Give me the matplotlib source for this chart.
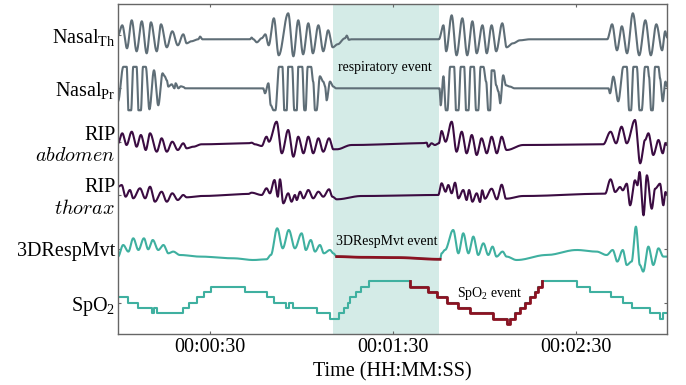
import numpy as np
import matplotlib
matplotlib.use("Agg")
import matplotlib.pyplot as plt

# time axis (seconds) and ticks
x_ticks = [30, 90, 150]
x_tick_labels = ["00:00:30", "00:01:30", "00:02:30"]
event_span = (70.5, 105.2)

# channel labels and their positions
channel_labels = ["Nasal$_{\\mathrm{Th}}$", "Nasal$_{\\mathrm{Pr}}$", "RIP\n$abdomen$",
                  "RIP\n$thorax$", "3DRespMvt", "SpO$_2$"]
label_pos = [299, 246, 192, 139, 85, 31]

# signal extremes: (time s, amplitude)
nasal_th = [(0, 4), (1.4, 14), (2.95, -9), (4.5, 19), (6.1, -12), (7.8, 18), (9.4, -14),
            (10.8, 17), (12.7, -12), (14.1, 15), (16.0, -8), (17.8, 8), (19.6, -6),
            (21.4, 5), (22.5, -4), (24, -2), (26.3, 0), (26.9, 2.7), (27.7, 0), (43.3, 0),
            (43.8, 1.7), (44.4, 0), (45.5, -3), (47.1, 1), (48.3, 5), (49.4, -6),
            (51.1, 21), (52.7, -16), (55.8, 26), (57.5, -17), (59.1, 19), (60.7, -15),
            (62.4, 16), (63.9, -14), (65.7, 14), (67.3, -12), (68.9, 9), (70.4, -8),
            (72, -5), (74.4, 1), (75, 3.7), (75.7, -0.5), (76.5, 0), (105.2, 0),
            (106.7, 14), (107.6, -12), (109.4, 24), (111.0, -16), (112.9, 21), (114.5, -16),
            (116.2, 18), (117.6, -14), (119.5, 14), (120.9, -14), (122.5, 14), (124.0, -12),
            (126.0, 16), (127.4, -8), (129.5, -4), (131.8, -1), (135, 0), (160.4, 0),
            (162.0, 15), (163.6, -11), (165.2, 13), (166.9, -14), (168.8, 26), (170.9, -16),
            (172.9, 19), (174.7, -16), (176.5, 15), (178.4, -11), (179.4, 8), (180, 2)]

nasal_pr = [(0, -13), (1.75, 21.5), (2.85, 21.5), (3.4, -22), (4.3, -22), (5.0, 21.5),
            (6.1, 21.5), (6.7, -22), (7.5, -22), (8.2, 21.5), (9.1, 21.5), (10.3, -21),
            (11.8, 18), (13.2, -17), (14.6, 15), (15.3, 12), (16.0, 8), (16.5, 1.7),
            (17.6, 4), (18.5, 0), (18.9, 5), (19.8, 0), (20.6, 2), (21.4, 1.5), (22, 0),
            (47.6, 0), (48.2, -5), (49.3, 5), (50.1, -17), (51.0, -22), (51.6, -22),
            (52.8, 21.5), (53.9, 21.5), (54.5, -22), (55.3, -22), (55.8, 21.5), (57.1, 21.5),
            (57.8, -22), (58.6, -22), (59.1, 21.5), (60.4, 21.5), (61.1, -22), (61.5, -22),
            (62.2, 21.5), (63.3, 21.5), (64.0, 6.7), (64.6, -22), (65.1, -22), (66.2, 12),
            (67.3, 6.7), (67.9, 1.7), (68.4, -12), (69.5, 6.7), (70.6, 1.7), (71.5, 0),
            (105.4, 0), (105.8, -17), (106.7, 12), (107.5, -22), (108.0, -22), (108.9, 21.5),
            (110.2, 21.5), (110.8, -22), (111.6, -22), (112.4, 21.5), (113.5, 21.5),
            (114.1, -22), (114.9, -22), (115.6, 21.5), (116.7, 21.5), (117.4, -22),
            (118.1, -22), (118.9, 21.5), (119.8, 21.5), (120.7, 6.7), (121.4, -22),
            (122.0, -22), (122.5, 18), (123.3, 18), (124.0, 3), (124.7, -3), (125.3, -15),
            (126.3, 13), (127.2, 3), (128.5, 1.7), (130, 0), (160.8, 0), (161.3, -5),
            (162.4, 11.7), (164.0, -13), (165.7, 21.5), (166.8, 21.5), (167.6, -22),
            (168.2, -22), (169.0, 21.5), (170.1, 21.5), (171.0, -22), (171.7, -22),
            (172.8, 21.5), (173.7, 21.5), (174.1, 11.7), (174.8, -22), (175.3, -22),
            (176.1, 21.5), (177.2, 21.5), (177.7, 10), (178.6, -13), (179.5, 6.7), (180, 2)]

rip_abdomen = [(0, 1.7), (1.4, 11.7), (2.8, 0), (4.5, 13.3), (6.1, -1.7), (7.5, 10),
               (9.1, -5), (10.5, 11.7), (12.7, -6.7), (14.3, 6.7), (16.0, -6.7), (17.8, 3.3),
               (19.6, -5), (21.4, 1.7), (22.5, -3.3), (24.7, -1.7), (27.4, 0.7), (42.7, 1.7),
               (43.8, 2.3), (44.9, 0.7), (47.1, -1), (48.7, 8.3), (49.5, 3.3), (52.0, 23.3),
               (53.7, -8.3), (55.8, 15), (57.5, -11.7), (59.1, 8.3), (60.8, -8.3), (62.4, 8.3),
               (64.0, -8.3), (65.7, 6.7), (67.3, -6.7), (69.2, 6.7), (70.6, -4.3),
               (71.7, -4.3), (76.6, 0), (99.6, 1.7), (101.2, 2.3), (101.7, -1.7),
               (102.8, 1.7), (103.9, 0), (105.2, 1.7), (106.1, 14), (107.4, 3.3),
               (109.4, 23.3), (111.0, -6.7), (112.7, 13.3), (114.3, -8.3), (116.0, 10),
               (117.6, -10), (119.2, 6.7), (120.9, -8.3), (122.5, 8.3), (124.2, -8.3),
               (125.8, 8.3), (127.4, -5), (132.9, 0), (159.1, 0.7), (161.5, 13.3),
               (163.3, 1.7), (165.1, 18.3), (166.8, 1.7), (169.5, 25), (171.2, -18.3),
               (172.8, 5), (173.9, 11.7), (175.5, -10), (177.2, 5), (178.6, -8.3),
               (179.5, 1.7), (180, 0)]

rip_thorax = [(0, 9.3), (1.2, 11), (2.5, -0.7), (3.9, 6), (5.0, -2.3), (7.2, 7.7),
              (8.9, -2.3), (10.5, 9.3), (12.1, -5.7), (14.3, 4.3), (16.0, -5.7), (17.8, 2.7),
              (19.6, -4), (21.4, 1), (22.5, -1.3), (27.4, 0), (42.7, 2), (43.8, 3.3),
              (47.1, 1), (48.7, 7.7), (49.8, 2.7), (51.3, 16), (52.4, -0.7), (53.1, 16.7),
              (54.2, -7.3), (55.8, 2.7), (56.9, -5.7), (58.0, 1), (58.6, -4), (59.7, 4.3),
              (60.8, -2.3), (62.4, 6), (64.0, -2.3), (65.7, 4.3), (67.3, -0.7), (69.2, 6.7),
              (70.3, -0.7), (71.7, -3.3), (79.9, 0), (105.0, 1), (106.1, 12.7), (107.4, 4.3),
              (108.3, 11), (109.4, 2.7), (110.5, 13.3), (111.6, -2.3), (113.2, 6),
              (114.3, -4), (115.1, 6), (116.2, -5.7), (117.6, 2.7), (118.7, -6),
              (119.4, 5.7), (120.3, -2.7), (122.5, 7.3), (124.2, -3.3), (125.8, 11.3),
              (127.2, -2.7), (132.9, 0), (159.7, 2.3), (161.5, 16.7), (163.0, 4),
              (164.6, 9), (165.5, 5.7), (166.8, 12.3), (167.9, -9.3), (169.5, 15.7),
              (170.3, 10.7), (171.0, 24), (172.3, -19.3), (173.4, 20.7), (175.0, -12.7),
              (176.1, 7.3), (177.7, 12.3), (178.8, -9.3), (179.5, 4), (180, 2)]

resp_3d = [(0, 1.7), (1.7, 13.3), (3.4, 6.7), (5.0, 20), (6.7, 8.3), (8.5, 20), (9.9, 9),
           (11.4, 18.3), (13.2, 8.3), (14.9, 13.3), (16.5, 5), (18.1, 6.7), (20.3, 3.3),
           (26.9, 1.7), (37.8, 0), (44.4, -1.7), (48.7, -1), (50.1, 3.3), (52.2, 30),
           (54.0, 10), (56.0, 28.3), (58.0, 10), (60.2, 25), (61.6, 8.3), (63.2, 18.3),
           (64.6, 6.7), (66.2, 13.3), (67.5, 5), (69.5, 8.3), (70.6, 5), (71.7, 1.7),
           (80.4, 1), (91.4, 0.7), (105.6, -1), (106.1, 5), (107.2, 8.3), (109.9, 28.3),
           (111.6, 5), (113.2, 25), (114.9, 5), (116.5, 21.7), (118.1, 3.3), (119.8, 15),
           (121.4, 3.3), (122.8, 11.7), (124.1, 1.7), (126.1, 6.7), (127.4, 1.7),
           (130.7, -1.7), (140.5, 3.3), (150.4, 8.3), (156.9, 6.7), (160.2, 3.3),
           (162.2, 8.3), (163.7, -3.3), (165.5, 8.3), (166.8, -6.7), (168.4, -3.3),
           (169.8, 31.7), (171.1, -6.7), (172.2, -13.3), (173.9, 11.7), (175.5, -6.7),
           (177.2, 10), (178.8, 1.7), (180, 1.7)]
resp_3d_event = (71.7, 105.6)

# SpO2 step levels (%)
spo2_t = [0, 3.4, 6.7, 11.0, 11.8, 12.7, 21.2, 23.3, 25.8, 28.2, 30.4, 41.6, 48.7, 51.1,
          55.1, 56.2, 57.5, 65.1, 69.5, 72.6, 74.1, 75.5, 76.1, 78.0, 79.8, 82.4, 95.7,
          101.7, 104.7, 107.8, 111.6, 115.4, 123.1, 127.4, 128.5, 130.2, 131.8, 133.4,
          135.1, 136.7, 137.8, 138.9, 150.4, 154.7, 161.8, 165.7, 168.4, 174.4, 177.7,
          178.8, 180]
spo2_v = [94, 93, 92, 91, 92, 91, 92, 93, 94, 95, 96, 95, 94, 93, 92, 93, 92, 91, 90, 91,
          92, 93, 94, 95, 96, 97, 96, 95, 94, 93, 92, 91, 90, 89, 90, 91, 92, 93, 94, 95,
          96, 97, 96, 95, 94, 93, 92, 91, 90, 91, 91]
spo2_event = (95.7, 138.9)

# vertical placement of each trace
offsets = {"th": 294.7, "pr": 245.7, "ab": 189, "tx": 138, "3d": 75.7}
spo2_base, spo2_scale = 47.3, 5.33

c_nasal = "#5f6e77"
c_rip = "#3b0c42"
c_teal = "#3fb0a0"
c_red = "#8c1222"


def wave(points, n=24):
    # smooth cosine easing between consecutive extremes
    ts = np.array([p[0] for p in points])
    vs = np.array([p[1] for p in points])
    s = np.linspace(0, 1, n, endpoint=False)
    w = (1 - np.cos(np.pi * s)) / 2
    xs = (ts[:-1, None] + (ts[1:] - ts[:-1])[:, None] * s).ravel()
    ys = (vs[:-1, None] + (vs[1:] - vs[:-1])[:, None] * w).ravel()
    return np.append(xs, ts[-1]), np.append(ys, vs[-1])


plt.rcParams['font.family'] = ['Liberation Serif', 'DejaVu Serif']
plt.rcParams['mathtext.fontset'] = 'custom'
plt.rcParams['mathtext.rm'] = 'Liberation Serif'
plt.rcParams['mathtext.it'] = 'Liberation Serif:italic'
fig = plt.figure(figsize=(6.86, 3.85), dpi=100)
ax = fig.add_axes([118 / 686, 51 / 385, 549 / 686, 330 / 385])

ax.axvspan(*event_span, color="#d4ebe7", lw=0, zorder=0)

for key, pts, col in [("th", nasal_th, c_nasal), ("pr", nasal_pr, c_nasal),
                      ("ab", rip_abdomen, c_rip), ("tx", rip_thorax, c_rip),
                      ("3d", resp_3d, c_teal)]:
    x, y = wave(pts)
    ax.plot(x, y + offsets[key], color=col, lw=1.5, zorder=2)

x, y = wave(resp_3d)
m = (x >= resp_3d_event[0]) & (x <= resp_3d_event[1])
ax.plot(x[m], y[m] + offsets["3d"], color=c_red, lw=2, zorder=3)

spo2_y = spo2_base + (np.array(spo2_v) - 96) * spo2_scale
ax.plot(spo2_t, spo2_y, drawstyle="steps-post", color=c_teal, lw=1.5, zorder=2)
i0 = spo2_t.index(spo2_event[0])
i1 = spo2_t.index(spo2_event[1])
red_t = [spo2_t[i0]] + spo2_t[i0:i1 + 1]
red_y = [spo2_y[i0 - 1]] + list(spo2_y[i0:i1 + 1])
ax.plot(red_t, red_y, drawstyle="steps-post", color=c_red, lw=2, zorder=3)

ax.text(87.5, 267, "respiratory event", ha="center", va="center", fontsize=10)
ax.text(88.2, 93, "3DRespMvt event", ha="center", va="center", fontsize=10)
ax.text(122, 40, "SpO$_2$ event", ha="center", va="center", fontsize=10)

ax.set_xlim(0, 180)
ax.set_ylim(0, 330)
ax.set_xticks(x_ticks, x_tick_labels, fontsize=14.5)
ax.set_yticks(label_pos, channel_labels, fontsize=14.5)
for lbl in ax.get_yticklabels():
    if "RIP" in lbl.get_text():
        lbl.set_math_fontfamily("cm")
ax.tick_params(direction="in", length=2.5, width=0.8, top=True, right=True,
               color="#666666", pad=3)
ax.tick_params(axis="y", pad=2)
for sp in ax.spines.values():
    sp.set_color("#666666")
    sp.set_linewidth(1)
ax.set_xlabel("Time (HH:MM:SS)", fontsize=14.5, labelpad=4)

fig.savefig("out.png", dpi=100)
